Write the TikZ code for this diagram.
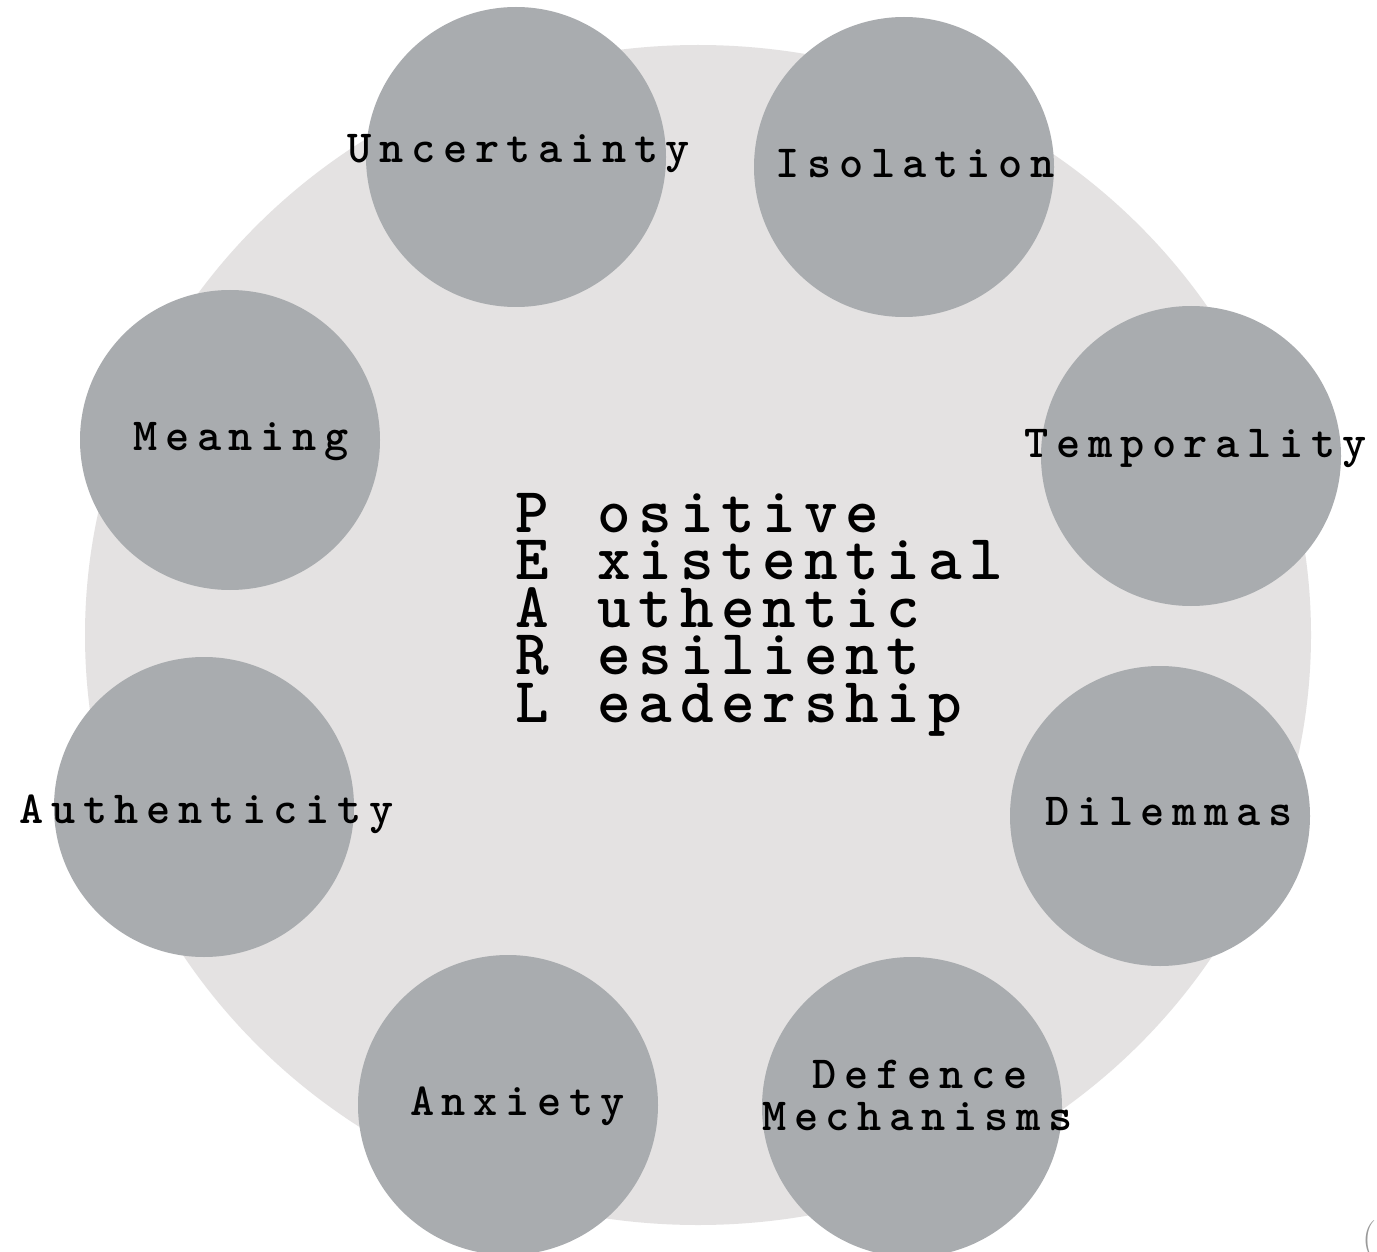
\documentclass[tikz,border=0pt]{standalone}
\usepackage{xparse}
\newlength\cellw
\ExplSyntaxOn
\NewDocumentCommand\cells{m}{ \tl_map_inline:nn {#1} { \makebox[\cellw]{##1} } }
\ExplSyntaxOff
\definecolor{bigfill}{HTML}{E4E2E2}
\definecolor{smallfill}{HTML}{A9ACAF}
\definecolor{capgray}{HTML}{9A9A9A}
\tikzset{
  topic/.style={circle, fill=smallfill, draw=none, minimum size=300pt, inner sep=0pt},
  lbl/.style={anchor=base, inner sep=0pt, text=black,
     font=\ttfamily\bfseries\fontsize{46}{46}\selectfont\setlength\cellw{31.8pt}},
  pearl/.style={anchor=base west, inner sep=0pt, text=black,
     font=\ttfamily\bfseries\fontsize{64}{64}\selectfont\setlength\cellw{41.3pt}}
}
\begin{document}
\begin{tikzpicture}[x=1pt,y=-1pt]
\useasboundingbox (0,0) rectangle (1377,1252);
\clip (0,0) rectangle (1377,1252);
\fill[white] (0,0) rectangle (1377,1252);
% big background disc
\fill[bigfill] (698,635) ellipse [x radius=613pt, y radius=590pt];
% topic circles
\node[topic] (cUnc) at (516,157) {};
\node[topic] (cIso) at (904,167) {};
\node[topic] (cTem) at (1191,456) {};
\node[topic] (cDil) at (1160,816) {};
\node[topic] (cDef) at (912,1107) {};
\node[topic] (cAnx) at (508,1105) {};
\node[topic] (cAut) at (204,807) {};
\node[topic] (cMea) at (230,440) {};
% labels
\node[lbl] (tUnc) at (519,163) {\cells{Uncertainty}};
\node[lbl] (tIso) at (915,178) {\cells{Isolation}};
\node[lbl] (tTem) at (1196,457) {\cells{Temporality}};
\node[lbl] (tDil) at (1169,825) {\cells{Dilemmas}};
\node[lbl] (tDef1) at (920,1088) {\cells{Defence}};
\node[lbl] (tDef2) at (917.5,1130) {\cells{Mechanisms}};
\node[lbl] (tAnx) at (517.5,1115) {\cells{Anxiety}};
\node[lbl] (tAut) at (206.5,823) {\cells{Authenticity}};
\node[lbl] (tMea) at (241,450) {\cells{Meaning}};
% PEARL acronym
\node[pearl] (p1) at (511,532) {\cells{P}\hspace{\cellw}\cells{ositive}};
\node[pearl] (p2) at (511,579.5) {\cells{E}\hspace{\cellw}\cells{xistential}};
\node[pearl] (p3) at (511,627) {\cells{A}\hspace{\cellw}\cells{uthentic}};
\node[pearl] (p4) at (511,674.5) {\cells{R}\hspace{\cellw}\cells{esilient}};
\node[pearl] (p5) at (511,722) {\cells{L}\hspace{\cellw}\cells{eadership}};
% cut-off caption glyph
\node[anchor=base west, inner sep=0pt, text=capgray, font=\fontsize{40}{40}\selectfont] (cap) at (1362,1250) {(};
\end{tikzpicture}
\end{document}
